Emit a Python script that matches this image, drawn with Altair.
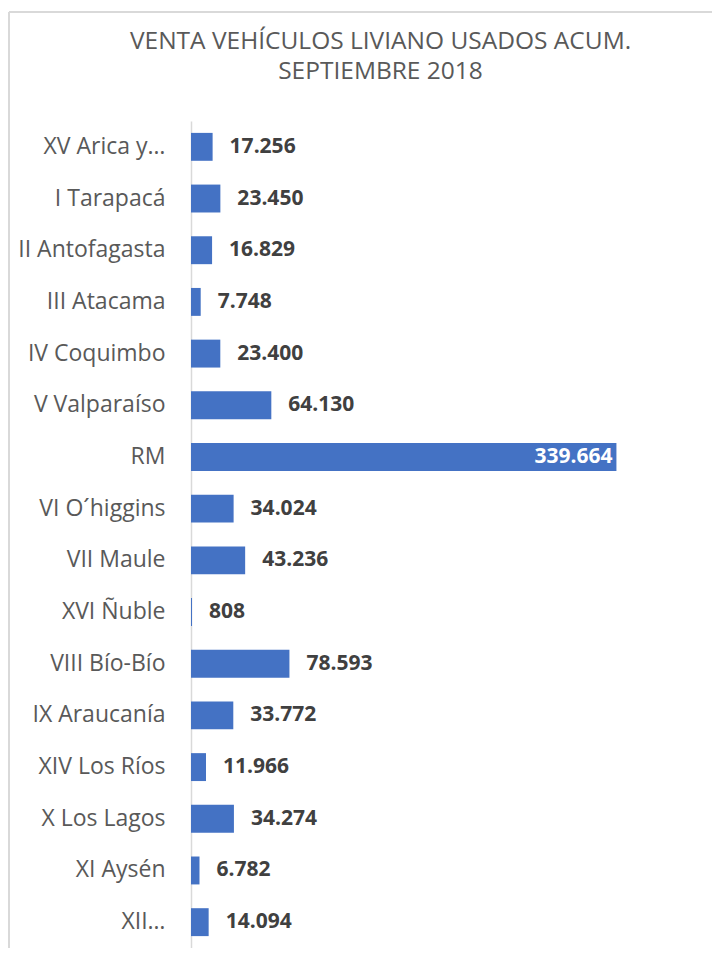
import altair as alt
import pandas as pd

regions = ["XV Arica y…", "I Tarapacá", "II Antofagasta", "III Atacama", "IV Coquimbo",
           "V Valparaíso", "RM", "VI O´higgins", "VII Maule", "XVI Ñuble",
           "VIII Bío-Bío", "IX Araucanía", "XIV Los Ríos", "X Los Lagos", "XI Aysén", "XII…"]
values = [17256, 23450, 16829, 7748, 23400, 64130, 339664, 34024, 43236, 808,
          78593, 33772, 11966, 34274, 6782, 14094]
title_lines = ["VENTA VEHÍCULOS LIVIANO USADOS ACUM.", "SEPTIEMBRE 2018"]

df = pd.DataFrame({
    "region": regions,
    "value": values,
    "label": [f"{v:,}".replace(",", ".") for v in values],
})

W, H = 501, 827
FONT = "Open Sans"

y_enc = alt.Y("region:N", sort=regions, title=None,
              scale=alt.Scale(paddingInner=0.46, paddingOuter=0.23),
              axis=alt.Axis(domainColor="#d9d9d9", domainWidth=1.5, ticks=False,
                            labelFont=FONT, labelFontSize=23, labelColor="#595959",
                            labelPadding=26, labelLimit=300))
x_enc = alt.X("value:Q", scale=alt.Scale(domain=[0, 400000], nice=False), axis=None)

base = alt.Chart(df)
bars = base.mark_bar(color="#4472C4").encode(x=x_enc, y=y_enc)

outside = base.transform_filter(alt.datum.value < 300000).mark_text(
    align="left", baseline="middle", dx=17, font=FONT, fontSize=21,
    fontWeight="bold", color="#404040"
).encode(x=x_enc, y=alt.Y("region:N", sort=regions), text="label:N")

inside = base.transform_filter(alt.datum.value >= 300000).mark_text(
    align="right", baseline="middle", dx=-4, font=FONT, fontSize=21,
    fontWeight="bold", color="white"
).encode(x=x_enc, y=alt.Y("region:N", sort=regions), text="label:N")

border_left = alt.Chart(df).mark_rule(color="#d9d9d9", strokeWidth=1.5).encode(
    x=alt.value(-182), y=alt.value(-109), y2=alt.value(H + 20))
border_top = alt.Chart(df).mark_rule(color="#d9d9d9", strokeWidth=1.5).encode(
    x=alt.value(-182), x2=alt.value(W + 30), y=alt.value(-109))

chart = alt.layer(border_left, border_top, bars, outside, inside).properties(
    width=W, height=H,
    title=alt.TitleParams(title_lines, font=FONT, fontSize=24.5, fontWeight="normal",
                          color="#595959", anchor="middle", dx=-61, offset=-73,
                          lineHeight=30),
    autosize=alt.AutoSizeParams(type="none"),
    padding={"left": 183, "top": 113, "right": 20, "bottom": 0},
).configure_view(stroke=None)

chart.save("out.html", embed_options={"renderer": "svg", "actions": False})
